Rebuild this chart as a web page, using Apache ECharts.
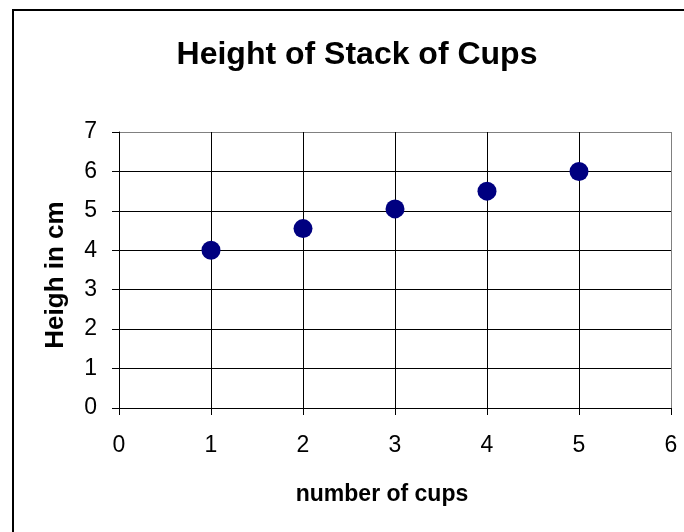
<!DOCTYPE html>
<html>
<head>
<meta charset="utf-8">
<script src="https://cdn.jsdelivr.net/npm/echarts@6/dist/echarts.min.js"></script>
<style>
html,body{margin:0;padding:0;background:#fff;}
#chart{width:684px;height:532px;}
</style>
</head>
<body>
<div id="chart"></div>
<script>
var chartTitle = "Height of Stack of Cups";
var xAxisTitle = "number of cups";
var yAxisTitle = "Heigh in cm";
var cups = [1, 2, 3, 4, 5];
var heights = [4, 4.55, 5.05, 5.5, 6];
var xTicks = [0, 1, 2, 3, 4, 5, 6];
var yTicks = [0, 1, 2, 3, 4, 5, 6, 7];

var points = cups.map(function (c, i) { return [c, heights[i]]; });
var font = "'Liberation Sans', Arial, sans-serif";

function gridColors(n) {
  var a = [];
  for (var i = 0; i < n; i++) a.push(i === n - 1 ? '#808080' : '#000000');
  return a;
}

var chart = echarts.init(document.getElementById('chart'), null, {renderer: 'canvas'});
chart.setOption({
  backgroundColor: '#ffffff',
  animation: false,
  graphic: [{
    type: 'rect',
    shape: {x: 13, y: 10, width: 800, height: 700},
    style: {fill: 'none', stroke: '#000', lineWidth: 2},
    silent: true
  }],
  title: {
    text: chartTitle,
    left: 352,
    top: 34,
    textAlign: 'center',
    textStyle: {fontFamily: font, fontWeight: 'bold', fontSize: 32, color: '#000'}
  },
  grid: {left: 119, right: 13, top: 132, bottom: 124, containLabel: false, outerBoundsMode: 'none'},
  xAxis: {
    type: 'value',
    min: xTicks[0], max: xTicks[xTicks.length - 1], interval: 1,
    name: xAxisTitle,
    nameLocation: 'middle',
    nameGap: 75,
    nameTextStyle: {fontFamily: font, fontWeight: 'bold', fontSize: 23, color: '#000', padding: [0, 26, 0, 0]},
    axisLine: {show: true, lineStyle: {color: '#000', width: 1}},
    axisTick: {show: true, inside: false, length: 7, lineStyle: {color: '#000'}},
    axisLabel: {margin: 26, fontFamily: font, fontSize: 23, color: '#000'},
    splitLine: {show: true, lineStyle: {color: gridColors(xTicks.length), width: 1}}
  },
  yAxis: {
    type: 'value',
    min: yTicks[0], max: yTicks[yTicks.length - 1], interval: 1,
    name: yAxisTitle,
    nameLocation: 'middle',
    nameRotate: 90,
    nameGap: 50,
    nameTextStyle: {fontFamily: font, fontWeight: 'bold', fontSize: 26, color: '#000', padding: [0, 10, 0, 0]},
    axisLine: {show: true, lineStyle: {color: '#000', width: 1}},
    axisTick: {show: true, inside: false, length: 7, lineStyle: {color: '#000'}},
    axisLabel: {margin: 22, fontFamily: font, fontSize: 23, color: '#000'},
    splitLine: {show: true, lineStyle: {color: gridColors(yTicks.length), width: 1}}
  },
  series: [{
    type: 'scatter',
    data: points,
    symbol: 'circle',
    symbolSize: 19,
    itemStyle: {color: '#000080', opacity: 1}
  }]
});
</script>
</body>
</html>
